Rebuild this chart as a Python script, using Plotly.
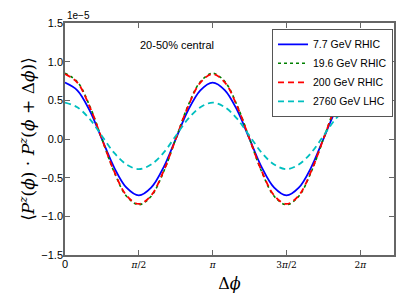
import numpy as np
import plotly.graph_objects as go

# Delta phi sample points (multiples of pi/12 from 0 to 2pi)
k_steps = list(range(25))
dphi = [k * np.pi / 12 for k in k_steps]

# correlation values in units of 1e-5
rhic_7_7 = [0.73, 0.63, 0.37, 0.00, -0.37, -0.63, -0.73, -0.63, -0.37, 0.00, 0.37, 0.63, 0.73,
            0.63, 0.37, 0.00, -0.37, -0.63, -0.73, -0.63, -0.37, 0.00, 0.37, 0.63, 0.73]
rhic_19_6 = [0.85, 0.74, 0.43, 0.00, -0.43, -0.74, -0.85, -0.74, -0.43, 0.00, 0.43, 0.74, 0.85,
             0.74, 0.43, 0.00, -0.43, -0.74, -0.85, -0.74, -0.43, 0.00, 0.43, 0.74, 0.85]
rhic_200 = [0.84, 0.73, 0.42, 0.00, -0.42, -0.73, -0.84, -0.73, -0.42, 0.00, 0.42, 0.73, 0.84,
            0.73, 0.42, 0.00, -0.42, -0.73, -0.84, -0.73, -0.42, 0.00, 0.42, 0.73, 0.84]
lhc_2760 = [0.47, 0.41, 0.26, 0.04, -0.18, -0.33, -0.39, -0.33, -0.18, 0.04, 0.26, 0.41, 0.47,
            0.41, 0.26, 0.04, -0.18, -0.33, -0.39, -0.33, -0.18, 0.04, 0.26, 0.41, 0.47]

series_names = ["7.7 GeV RHIC", "19.6 GeV RHIC", "200 GeV RHIC", "2760 GeV LHC"]
x_tick_vals = [0, np.pi / 2, np.pi, 3 * np.pi / 2, 2 * np.pi]
x_tick_text = ["<span style='font-family:Liberation Sans;font-size:11px'>0</span>", "<i>π</i>/2", "<i>π</i>", "3<i>π</i>/2", "2<i>π</i>"]
y_tick_vals = [-1.5, -1.0, -0.5, 0.0, 0.5, 1.0, 1.5]
y_tick_text = ["−1.5", "−1.0", "−0.5", "0.0", "0.5", "1.0", "1.5"]

styles = [
    dict(color="#0000ff", width=1.8, dash="solid"),
    dict(color="#008000", width=1.6, dash="dot"),
    dict(color="#ff0000", width=1.8, dash="6px,4px"),
    dict(color="#00bfbf", width=1.8, dash="6px,4px"),
]

fig = go.Figure()
for name, vals, st in zip(series_names, [rhic_7_7, rhic_19_6, rhic_200, lhc_2760], styles):
    fig.add_trace(go.Scatter(x=dphi, y=vals, mode="lines", name=name,
                             line=dict(shape="spline", **st)))

axis_common = dict(showline=True, linecolor="#666666", linewidth=1.5, mirror="ticks",
                   ticks="inside", ticklen=5, tickcolor="#666666", showgrid=False, zeroline=False,
                   automargin=False)

fig.update_layout(
    width=407, height=305,
    margin=dict(l=65, r=13, t=23, b=50),
    paper_bgcolor="white", plot_bgcolor="white",
    font=dict(family="Liberation Sans, Arial, sans-serif", size=11, color="black"),
    xaxis=dict(range=[0, 7], tickvals=x_tick_vals, ticktext=x_tick_text,
               tickfont=dict(family="DejaVu Serif", size=9),
               title=dict(text="Δ<i>ϕ</i>", font=dict(family="DejaVu Serif", size=16), standoff=9),
               **axis_common),
    yaxis=dict(range=[-1.5, 1.5], tickvals=y_tick_vals, ticktext=y_tick_text,
               tickfont=dict(size=11), ticklabelstandoff=-2,
               title=dict(text="⟨<i>P<sup>z</sup></i>(<i>ϕ</i>) · <i>P<sup>z</sup></i>(<i>ϕ</i> + Δ<i>ϕ</i>)⟩",
                          font=dict(family="DejaVu Serif", size=17), standoff=2),
               **axis_common),
    legend=dict(x=0.997, y=0.975, xanchor="right", yanchor="top",
                bgcolor="white", bordercolor="#555555", borderwidth=1,
                font=dict(size=10.5), tracegroupgap=0, itemwidth=30),
    showlegend=True,
)

fig.add_annotation(text="20-50% central", xref="paper", yref="paper", x=0.34, y=0.94,
                   showarrow=False, font=dict(size=11))
fig.add_annotation(text="1e−5", xref="paper", yref="paper", x=0.0, y=1.0,
                   xanchor="left", yanchor="bottom", showarrow=False, font=dict(size=10))

fig.write_html("out.html", config={"displayModeBar": False},
               post_script="document.body.style.margin='0';document.body.style.overflow='hidden';")
